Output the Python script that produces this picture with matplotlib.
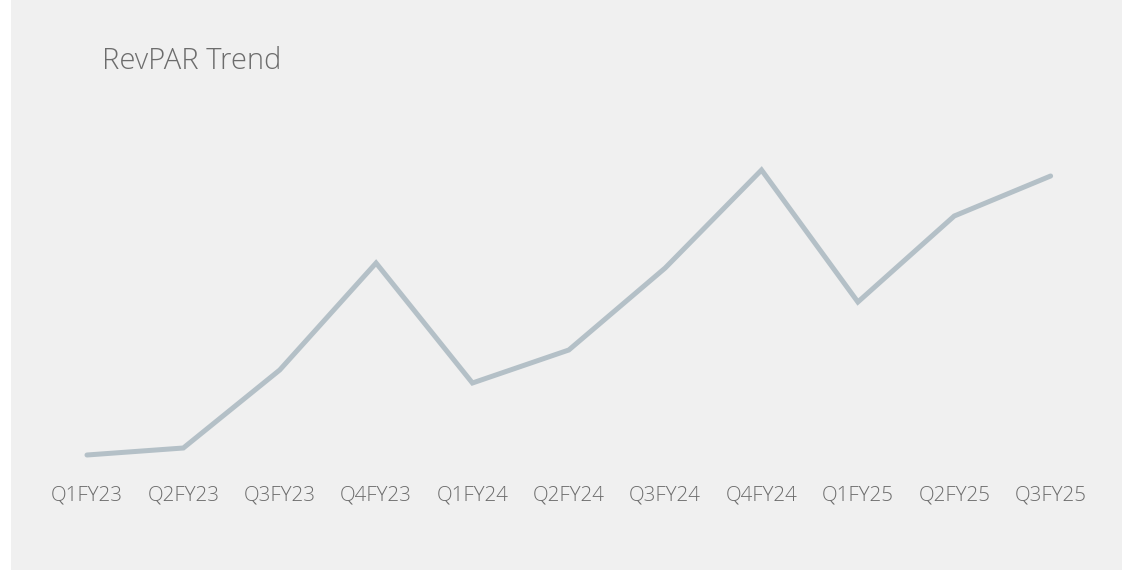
import matplotlib
matplotlib.use("Agg")
import matplotlib.pyplot as plt
from matplotlib.patches import Rectangle

# quarter labels and RevPAR trend values (relative)
quarters = ["Q1FY23", "Q2FY23", "Q3FY23", "Q4FY23", "Q1FY24", "Q2FY24",
            "Q3FY24", "Q4FY24", "Q1FY25", "Q2FY25", "Q3FY25"]
revpar = [15, 22, 100, 207, 87, 120, 202, 300, 168, 254, 294]

title = "RevPAR Trend"
bg = "#f0f0f0"
line_color = "#b4c0c7"
text_color = "#6c6c6c"

plt.rcParams['font.family'] = ['Open Sans', 'DejaVu Sans']

W, H = 1125, 570
fig = plt.figure(figsize=(W / 100, H / 100), dpi=100)
fig.patch.set_facecolor("white")

# gray card behind the chart
fig.add_artist(Rectangle((11 / W, 0), (1122 - 11) / W, 1, transform=fig.transFigure,
                         facecolor=bg, edgecolor="none", zorder=0))

ax = fig.add_axes([38.8 / W, (H - 470) / H, 1060 / W, 370 / H])
ax.set_facecolor("none")
x = range(len(quarters))
ax.plot(x, revpar, color=line_color, linewidth=3.6, solid_capstyle="round",
        solid_joinstyle="miter")
ax.set_xlim(-0.5, len(quarters) - 0.5)
ax.set_ylim(0, 370)
ax.set_xticks(list(x))
ax.set_xticklabels(quarters, fontsize=14.8, color=text_color, fontweight="light")
ax.tick_params(axis="x", length=0, pad=11)
ax.set_yticks([])
for s in ax.spines.values():
    s.set_visible(False)

fig.text(102 / W, 1 - 61 / H, title, fontsize=21, color=text_color,
         fontweight="light", ha="left", va="center")

fig.savefig("out.png", dpi=100, facecolor=fig.get_facecolor())
